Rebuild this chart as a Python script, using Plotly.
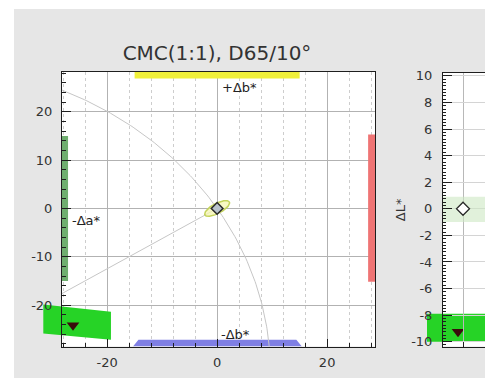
import math
import plotly.graph_objects as go

W, H = 485, 381

# ---------------- data ----------------
title_text = "CMC(1:1), D65/10°"

# standard (at the origin) and batch, in Δa*/Δb* and ΔL*
std_da, std_db, std_dL = [0.0], [0.0], [0.0]
bat_da, bat_db, bat_dL = [-26.2], [-24.2], [-9.25]
std_slot, bat_slot = [0.0], [-0.25]          # horizontal slot in the ΔL* strip

neutral = [-54.1, -33.8]                      # neutral point relative to the standard
ellipse_semi = [2.6, 1.0]                     # CMC ellipse semi-axes (chroma, hue)

# tolerance bars along the edges of the Δa*/Δb* frame
bar_pb_x, bar_pb_y = [-15.0, 15.0], [26.9, 28.6]
bar_nb_x_out, bar_nb_x_in, bar_nb_y = [-15.3, 15.4], [-14.3, 14.4], [-28.6, -27.2]
bar_na_x, bar_na_y = [-28.2, -27.1], [-15.0, 15.0]
bar_pa_x, bar_pa_y = [27.45, 28.7], [-15.2, 15.3]

# highlighted batch region
hl_da = [-31.6, -19.3, -19.3, -31.6]
hl_db = [-19.9, -21.4, -27.2, -25.9]

# ΔL* strip bands
dL_std_band = [-1.0, 0.9]
dL_bat_band = [-10.0, -7.9]
dL_bat_band_x = [-1.8, 1.5]

x_ticks = [-20, 0, 20]
x_minor = list(range(-28, 29, 4))
y_ticks = [-20, -10, 0, 10, 20]
y_minor = list(range(-28, 29, 2))
dL_ticks = list(range(-10, 11, 2))
dL_minor = [k * 0.25 for k in range(-41, 41)]

x_range, y_range = [-28.2, 28.7], [-28.6, 28.3]
slot_range, dL_range = [-1.0, 1.1], [-10.37, 10.24]


def labels(vals):
    # plain hyphen-minus, as in the instrument software
    return [str(v) for v in vals]


# ---------------- layout boxes (pixels) ----------------
def hdom(p0, p1):
    return [p0 / W, p1 / W]

def vdom(top, bot):
    return [1 - bot / H, 1 - top / H]

LX, LY = hdom(62, 375), vdom(69, 349)
RX, RY = hdom(443, 485), vdom(70, 349)


def full_width_range(rng, dom):
    """Range of a [0,1]-domain axis that shares the scale of an axis on `dom`."""
    span = (rng[1] - rng[0]) / (dom[1] - dom[0])
    return [rng[0] - dom[0] * span, rng[0] + (1 - dom[0]) * span]


FONT = "DejaVu Sans"
TXT = "#333333"
LINE = "#1e1e1e"
GRID = "#b2b2b2"
GRID_MINOR = "#cdcdcd"

fig = go.Figure()

# ---- full-width layer under the Δa*/Δb* frame (highlight + batch marker) ----
fig.add_trace(go.Scatter(
    x=hl_da + hl_da[:1], y=hl_db + hl_db[:1], xaxis="x", yaxis="y",
    mode="lines", fill="toself", fillcolor="#26d326", line=dict(width=0),
    hoverinfo="skip", showlegend=False))
fig.add_trace(go.Scatter(
    x=bat_da, y=bat_db, xaxis="x", yaxis="y", mode="markers",
    marker=dict(symbol="triangle-down", size=11, color="#3a0c0c"),
    showlegend=False))

# ---- Δa*/Δb* frame ----
def poly(xs, ys, color):
    fig.add_trace(go.Scatter(
        x=xs + xs[:1], y=ys + ys[:1], xaxis="x2", yaxis="y2", mode="lines",
        fill="toself", fillcolor=color, line=dict(width=0),
        hoverinfo="skip", showlegend=False))

poly([bar_pb_x[0], bar_pb_x[1], bar_pb_x[1], bar_pb_x[0]],
     [bar_pb_y[0], bar_pb_y[0], bar_pb_y[1], bar_pb_y[1]], "#f0f03a")
poly([bar_nb_x_out[0], bar_nb_x_out[1], bar_nb_x_in[1], bar_nb_x_in[0]],
     [bar_nb_y[0], bar_nb_y[0], bar_nb_y[1], bar_nb_y[1]], "#7f7fe4")
poly([bar_na_x[0], bar_na_x[1], bar_na_x[1], bar_na_x[0]],
     [bar_na_y[0], bar_na_y[0], bar_na_y[1], bar_na_y[1]], "#6fae6f")
poly([bar_pa_x[0], bar_pa_x[1], bar_pa_x[1], bar_pa_x[0]],
     [bar_pa_y[0], bar_pa_y[0], bar_pa_y[1], bar_pa_y[1]], "#ef7474")

# constant-chroma circle through the standard and the hue line to neutral
radius = math.hypot(neutral[0], neutral[1])
n = 720
circ_x = [neutral[0] + radius * math.cos(2 * math.pi * i / n) for i in range(n + 1)]
circ_y = [neutral[1] + radius * math.sin(2 * math.pi * i / n) for i in range(n + 1)]
fig.add_trace(go.Scatter(x=circ_x, y=circ_y, xaxis="x2", yaxis="y2", mode="lines",
                         line=dict(color="#c6c6c6", width=1), hoverinfo="skip",
                         showlegend=False))
fig.add_trace(go.Scatter(x=[neutral[0], std_da[0]], y=[neutral[1], std_db[0]],
                         xaxis="x2", yaxis="y2", mode="lines",
                         line=dict(color="#c6c6c6", width=1), hoverinfo="skip",
                         showlegend=False))

# CMC tolerance ellipse around the standard
theta = math.atan2(-neutral[1], -neutral[0])
ea, eb = ellipse_semi
ex, ey = [], []
for i in range(121):
    t = 2 * math.pi * i / 120
    u, v = ea * math.cos(t), eb * math.sin(t)
    ex.append(std_da[0] + u * math.cos(theta) - v * math.sin(theta))
    ey.append(std_db[0] + u * math.sin(theta) + v * math.cos(theta))
fig.add_trace(go.Scatter(x=ex, y=ey, xaxis="x2", yaxis="y2", mode="lines",
                         fill="toself", fillcolor="rgba(246,246,175,0.75)",
                         line=dict(color="#c4d35c", width=1.5), hoverinfo="skip",
                         showlegend=False))
fig.add_trace(go.Scatter(x=std_da, y=std_db, xaxis="x2", yaxis="y2", mode="markers",
                         marker=dict(symbol="diamond", size=9, color="#b9c3cc",
                                     line=dict(color="#2a2a2a", width=1.5)),
                         showlegend=False))

# ---- full-width layer under the ΔL* strip ----
fig.add_trace(go.Scatter(
    x=[dL_bat_band_x[0], dL_bat_band_x[1], dL_bat_band_x[1], dL_bat_band_x[0], dL_bat_band_x[0]],
    y=[dL_bat_band[0], dL_bat_band[0], dL_bat_band[1], dL_bat_band[1], dL_bat_band[0]],
    xaxis="x3", yaxis="y3", mode="lines", fill="toself", fillcolor="#26d326",
    line=dict(width=0), hoverinfo="skip", showlegend=False))
fig.add_trace(go.Scatter(
    x=bat_slot, y=bat_dL, xaxis="x3", yaxis="y3", mode="markers",
    marker=dict(symbol="triangle-down", size=11, color="#3a0c0c"), showlegend=False))

# ---- ΔL* strip ----
fig.add_trace(go.Scatter(
    x=[slot_range[0], slot_range[1], slot_range[1], slot_range[0], slot_range[0]],
    y=[dL_std_band[0], dL_std_band[0], dL_std_band[1], dL_std_band[1], dL_std_band[0]],
    xaxis="x4", yaxis="y4", mode="lines", fill="toself",
    fillcolor="rgba(205,232,195,0.6)", line=dict(width=0), hoverinfo="skip",
    showlegend=False))
fig.add_trace(go.Scatter(x=std_slot, y=std_dL, xaxis="x4", yaxis="y4", mode="markers",
                         marker=dict(symbol="diamond", size=10, color="white",
                                     line=dict(color="#2a2a2a", width=1.3)),
                         showlegend=False))

tickfont = dict(family=FONT, size=13, color=TXT)
hidden = dict(visible=False, fixedrange=True)

fig.update_layout(
    width=W, height=H, margin=dict(l=0, r=0, t=0, b=0),
    paper_bgcolor="white", plot_bgcolor="rgba(0,0,0,0)",
    showlegend=False,
    title=dict(text=title_text, x=217 / W, xref="paper", xanchor="center",
               y=1 - 50 / H, yref="paper", yanchor="middle",
               font=dict(family=FONT, size=20, color=TXT)),
    # full-width axes carrying the vertical grid of the Δa*/Δb* frame
    xaxis=dict(domain=[0, 1], range=full_width_range(x_range, LX), anchor="y",
               tickmode="array", tickvals=x_ticks, showticklabels=False, ticks="",
               showgrid=True, gridcolor=GRID, gridwidth=1, zeroline=False,
               showline=False, fixedrange=True,
               minor=dict(tickmode="array", tickvals=x_minor, showgrid=True,
                          gridcolor=GRID_MINOR, griddash="dot", ticks="")),
    yaxis=dict(domain=LY, range=y_range, anchor="x", **hidden),
    # Δa*/Δb* frame
    xaxis2=dict(domain=LX, range=x_range, anchor="y2",
                tickmode="array", tickvals=x_ticks, ticktext=labels(x_ticks),
                ticks="inside", ticklen=8,
                tickcolor=LINE, tickfont=tickfont, ticklabelstandoff=4,
                showgrid=False, zeroline=False, showline=True, mirror=True,
                linecolor=LINE, linewidth=1, fixedrange=True,
                minor=dict(tickmode="array", tickvals=x_minor, ticks="inside",
                           ticklen=4, tickcolor=LINE, showgrid=False)),
    yaxis2=dict(domain=LY, range=y_range, anchor="x2",
                tickmode="array", tickvals=y_ticks, ticktext=labels(y_ticks),
                ticks="inside", ticklen=9,
                tickcolor=LINE, tickfont=tickfont, ticklabelstandoff=6,
                showgrid=True, gridcolor=GRID, zeroline=False, showline=True,
                mirror=True, linecolor=LINE, linewidth=1, fixedrange=True,
                minor=dict(tickmode="array", tickvals=y_minor, ticks="inside",
                           ticklen=4, tickcolor=LINE, showgrid=False)),
    # full-width axes under the ΔL* strip
    xaxis3=dict(domain=[0, 1], range=full_width_range(slot_range, RX), anchor="y3", **hidden),
    yaxis3=dict(domain=RY, range=dL_range, anchor="x3", **hidden),
    # ΔL* strip
    xaxis4=dict(domain=RX, range=slot_range, anchor="y4",
                tickmode="array", tickvals=[0], ticks="inside", ticklen=5,
                tickcolor=LINE, showticklabels=False, showgrid=True,
                gridcolor="#b8b8b8", zeroline=False, showline=True, mirror=True,
                linecolor=LINE, linewidth=1, fixedrange=True),
    yaxis4=dict(domain=RY, range=dL_range, anchor="x4",
                tickmode="array", tickvals=dL_ticks, ticktext=labels(dL_ticks),
                ticks="inside", ticklen=9,
                tickcolor=LINE, tickfont=tickfont, ticklabelstandoff=7,
                showgrid=True, gridcolor="#d4d4d4", zeroline=False, showline=True,
                mirror=False, linecolor=LINE, linewidth=1, fixedrange=True,
                minor=dict(tickmode="array", tickvals=dL_minor, ticks="inside",
                           ticklen=3, tickcolor=LINE, showgrid=False)),
    shapes=[
        dict(type="rect", xref="paper", yref="paper", x0=14 / W, x1=1, y0=0,
             y1=1 - 5 / H, fillcolor="#e6e6e6", line=dict(width=0), layer="below"),
        dict(type="rect", xref="paper", yref="paper", x0=LX[0], x1=LX[1],
             y0=LY[0], y1=LY[1], fillcolor="white", line=dict(width=0), layer="below"),
        dict(type="rect", xref="paper", yref="paper", x0=RX[0], x1=RX[1],
             y0=RY[0], y1=RY[1], fillcolor="white", line=dict(width=0), layer="below"),
    ],
)

# axis-direction labels inside the frame
labfont = dict(family=FONT, size=13, color="#222222")
for text, x, y, anchor in [("+Δb*", 0.55, 25.1, "left"), ("-Δb*", 0.4, -26.2, "left"),
                           ("-Δa*", -26.7, -2.4, "left"), ("+Δa*", 29.0, -2.4, "right")]:
    fig.add_annotation(text=text, x=x, y=y, xref="x2", yref="y2", xanchor=anchor,
                       yanchor="middle", showarrow=False, font=labfont)

fig.add_annotation(text="ΔL*", x=400 / W, y=1 - 210 / H, xref="paper", yref="paper",
                   textangle=-90, showarrow=False, xanchor="center", yanchor="middle",
                   font=dict(family=FONT, size=13, color=TXT))

fig.write_html("out.html")
